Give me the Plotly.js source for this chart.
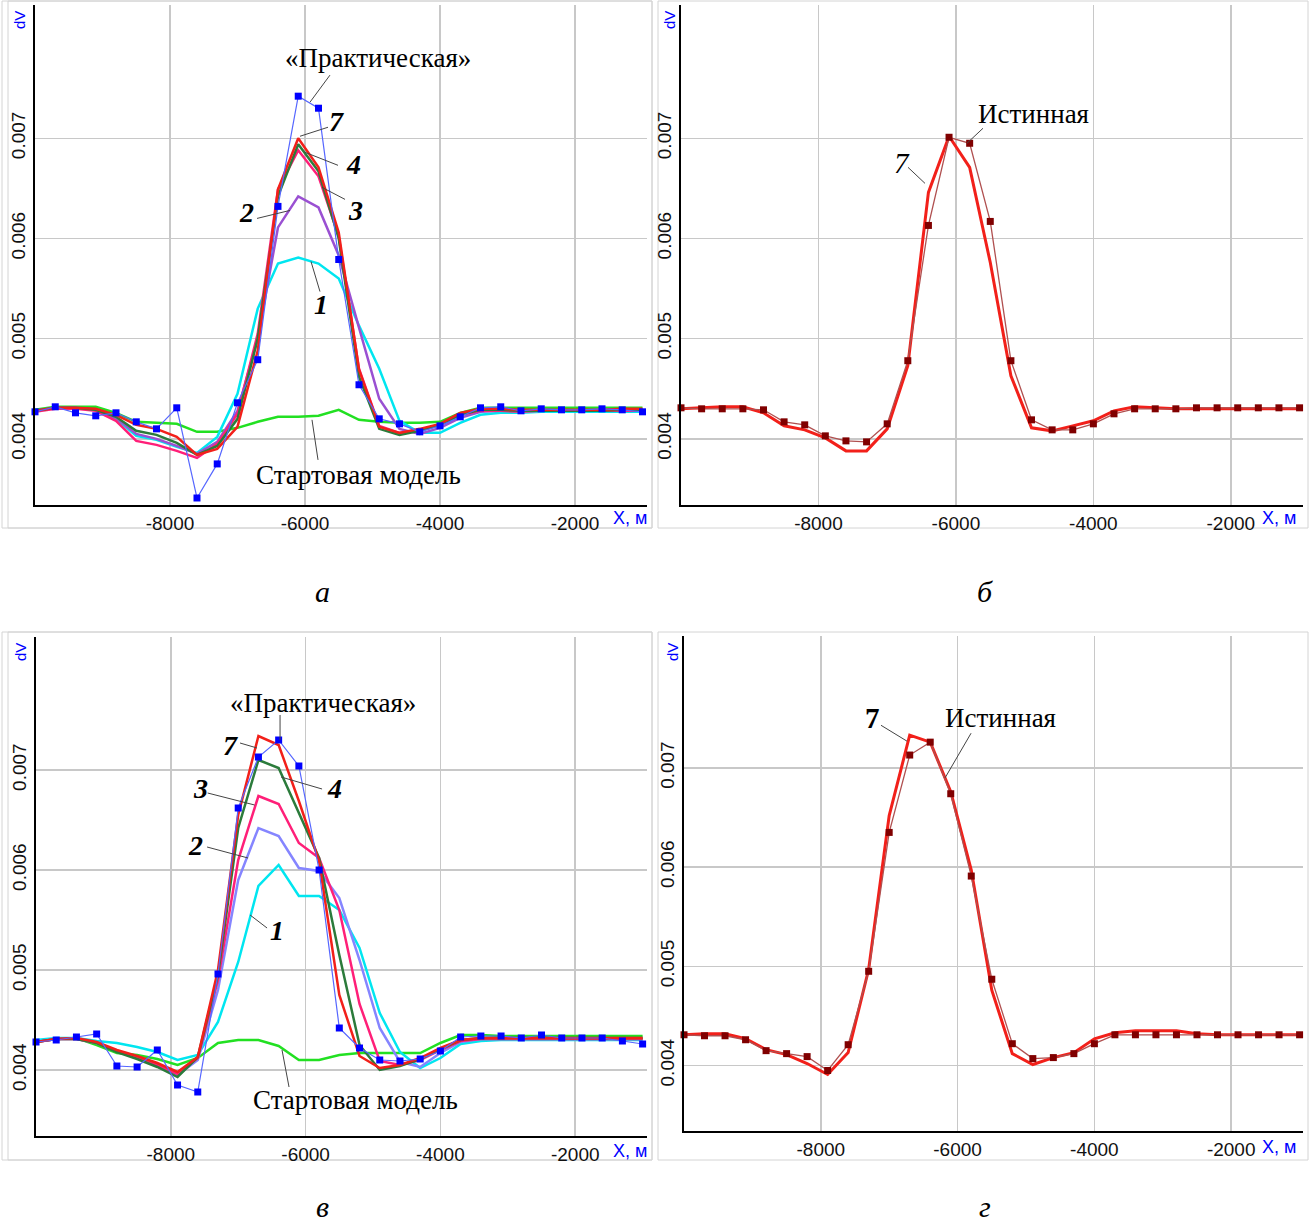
<!DOCTYPE html>
<html><head><meta charset="utf-8">
<script src="https://cdn.plot.ly/plotly-3.0.1.min.js"></script>
<style>body{margin:0;background:#fff}#chart{width:1311px;height:1225px}</style>
</head><body><div id="chart"></div>
<script>
// Profile positions (m)
const xPos = [-10000,-9700,-9400,-9100,-8800,-8500,-8200,-7900,-7600,-7300,-7000,-6700,-6400,-6100,-5800,-5500,-5200,-4900,-4600,-4300,-4000,-3700,-3400,-3100,-2800,-2500,-2200,-1900,-1600,-1300,-1000];

// Panel а
const aPractical = [0.00427,0.00432,0.00426,0.00423,0.00426,0.00417,0.00410,0.00431,0.00341,0.00375,0.00436,0.00479,0.00632,0.00742,0.00730,0.00579,0.00454,0.00420,0.00415,0.00407,0.00413,0.00422,0.00431,0.00432,0.00428,0.00430,0.00429,0.00429,0.00430,0.00429,0.00427];
const aStart = [0.00429,0.00432,0.00432,0.00432,0.00426,0.00417,0.00416,0.00415,0.00407,0.00407,0.00411,0.00417,0.00422,0.00422,0.00423,0.00429,0.00419,0.00417,0.00416,0.00416,0.00417,0.00426,0.00431,0.00431,0.00431,0.00431,0.00431,0.00431,0.00431,0.00431,0.00431];
const aIter1 = [0.00428,0.00431,0.00431,0.00429,0.00420,0.00403,0.00399,0.00392,0.00386,0.00402,0.00445,0.00530,0.00575,0.00581,0.00575,0.00560,0.00513,0.00470,0.00418,0.00406,0.00406,0.00416,0.00424,0.00426,0.00426,0.00427,0.00427,0.00427,0.00427,0.00427,0.00427];
const aIter2 = [0.00428,0.00431,0.00431,0.00429,0.00421,0.00405,0.00400,0.00393,0.00385,0.00397,0.00428,0.00500,0.00611,0.00642,0.00631,0.00583,0.00511,0.00440,0.00410,0.00405,0.00411,0.00421,0.00427,0.00428,0.00428,0.00428,0.00428,0.00428,0.00428,0.00428,0.00428];
const aIter3 = [0.00427,0.00430,0.00430,0.00428,0.00418,0.00398,0.00394,0.00388,0.00381,0.00395,0.00425,0.00505,0.00649,0.00688,0.00662,0.00602,0.00470,0.00413,0.00406,0.00409,0.00414,0.00424,0.00428,0.00428,0.00427,0.00428,0.00428,0.00428,0.00428,0.00428,0.00428];
const aIter4 = [0.00428,0.00431,0.00431,0.00429,0.00422,0.00408,0.00404,0.00396,0.00384,0.00393,0.00420,0.00500,0.00642,0.00694,0.00667,0.00600,0.00462,0.00410,0.00404,0.00408,0.00414,0.00424,0.00429,0.00429,0.00428,0.00428,0.00428,0.00428,0.00428,0.00429,0.00429];
const aIter7 = [0.00428,0.00431,0.00431,0.00430,0.00424,0.00414,0.00410,0.00402,0.00384,0.00390,0.00412,0.00488,0.00649,0.00700,0.00671,0.00606,0.00469,0.00412,0.00406,0.00410,0.00415,0.00426,0.00430,0.00430,0.00429,0.00429,0.00429,0.00429,0.00429,0.00430,0.00430];

// Panel б
const bTrue = [0.00431,0.00430,0.00430,0.00430,0.00429,0.00417,0.00414,0.00403,0.00398,0.00397,0.00415,0.00478,0.00613,0.00701,0.00695,0.00617,0.00478,0.00419,0.00409,0.00409,0.00415,0.00425,0.00430,0.00430,0.00430,0.00431,0.00431,0.00431,0.00431,0.00431,0.00431];
const bIter7 = [0.00430,0.00431,0.00432,0.00432,0.00426,0.00413,0.00409,0.00401,0.00388,0.00388,0.00410,0.00473,0.00646,0.00702,0.00671,0.00576,0.00463,0.00411,0.00408,0.00413,0.00418,0.00428,0.00432,0.00431,0.00430,0.00430,0.00430,0.00430,0.00430,0.00430,0.00430];

// Panel в
const cPractical = [0.00428,0.00430,0.00433,0.00436,0.00404,0.00403,0.00420,0.00385,0.00378,0.00496,0.00662,0.00713,0.00730,0.00704,0.00600,0.00442,0.00422,0.00410,0.00409,0.00411,0.00419,0.00433,0.00434,0.00434,0.00432,0.00435,0.00432,0.00432,0.00432,0.00429,0.00426];
const cStart = [0.00429,0.00431,0.00432,0.00425,0.00417,0.00415,0.00411,0.00405,0.00412,0.00427,0.00430,0.00430,0.00424,0.00410,0.00410,0.00415,0.00417,0.00417,0.00417,0.00417,0.00427,0.00435,0.00435,0.00434,0.00434,0.00434,0.00434,0.00434,0.00434,0.00434,0.00434];
const cIter1 = [0.00430,0.00432,0.00432,0.00429,0.00427,0.00423,0.00418,0.00410,0.00415,0.00448,0.00508,0.00584,0.00605,0.00574,0.00574,0.00560,0.00522,0.00457,0.00418,0.00402,0.00412,0.00426,0.00429,0.00430,0.00430,0.00430,0.00430,0.00430,0.00430,0.00430,0.00430];
const cIter2 = [0.00428,0.00431,0.00431,0.00427,0.00419,0.00412,0.00405,0.00395,0.00410,0.00480,0.00590,0.00642,0.00634,0.00602,0.00599,0.00572,0.00510,0.00442,0.00408,0.00403,0.00417,0.00428,0.00431,0.00431,0.00431,0.00431,0.00431,0.00431,0.00431,0.00431,0.00431];
const cIter3 = [0.00428,0.00431,0.00431,0.00427,0.00419,0.00412,0.00405,0.00396,0.00412,0.00490,0.00610,0.00674,0.00666,0.00627,0.00612,0.00560,0.00466,0.00409,0.00405,0.00410,0.00420,0.00429,0.00431,0.00431,0.00431,0.00431,0.00431,0.00431,0.00431,0.00431,0.00431];
const cIter4 = [0.00428,0.00431,0.00431,0.00427,0.00418,0.00411,0.00403,0.00393,0.00413,0.00495,0.00642,0.00710,0.00702,0.00657,0.00612,0.00515,0.00425,0.00400,0.00404,0.00411,0.00421,0.00430,0.00432,0.00432,0.00432,0.00432,0.00432,0.00432,0.00432,0.00432,0.00432];
const cIter7 = [0.00428,0.00431,0.00432,0.00428,0.00420,0.00414,0.00407,0.00398,0.00413,0.00500,0.00655,0.00734,0.00725,0.00669,0.00609,0.00475,0.00414,0.00402,0.00405,0.00412,0.00422,0.00430,0.00432,0.00432,0.00432,0.00432,0.00432,0.00432,0.00432,0.00432,0.00432];

// Panel г
const dTrue = [0.00431,0.00430,0.00430,0.00426,0.00415,0.00412,0.00409,0.00395,0.00421,0.00495,0.00635,0.00713,0.00726,0.00674,0.00591,0.00487,0.00422,0.00407,0.00408,0.00412,0.00422,0.00431,0.00431,0.00431,0.00431,0.00431,0.00431,0.00431,0.00431,0.00431,0.00431];
const dIter7 = [0.00431,0.00432,0.00432,0.00427,0.00416,0.00411,0.00402,0.00391,0.00413,0.00497,0.00652,0.00733,0.00726,0.00676,0.00597,0.00476,0.00412,0.00401,0.00408,0.00413,0.00427,0.00433,0.00435,0.00435,0.00435,0.00432,0.00431,0.00431,0.00431,0.00431,0.00431];

const xTicks = [-8000,-6000,-4000,-2000];
const yTicks = [0.004,0.005,0.006,0.007];
const yTickText = ['0.004','0.005','0.006','0.007'];

const C = {cyan:'#00e6f0', purple:'#9a50d2', pink:'#ff1f78', dkgreen:'#2b7b3b', red:'#f2201a', start:'#22e022', blue:'#0000ff', blueLine:'#5566ff', peri:'#8585ff', trueM:'#800000', trueL:'#b05050'};

function ln(xa, ya, y, color, w){
  return {x:xPos, y:y, xaxis:xa, yaxis:ya, type:'scatter', mode:'lines', line:{color:color, width:w}, showlegend:false, hoverinfo:'skip', cliponaxis:false};
}
function mk(xa, ya, y, mcolor, lcolor, lw){
  return {x:xPos, y:y, xaxis:xa, yaxis:ya, type:'scatter', mode:'lines+markers', line:{color:lcolor, width:lw}, marker:{symbol:'square', size:7, color:mcolor}, showlegend:false, hoverinfo:'skip', cliponaxis:false};
}

const traces = [
  ln('x','y',aStart,C.start,2.5),
  ln('x','y',aIter1,C.cyan,2.5),
  ln('x','y',aIter2,C.purple,2.5),
  ln('x','y',aIter3,C.pink,2.5),
  ln('x','y',aIter4,C.dkgreen,2.5),
  ln('x','y',aIter7,C.red,2.5),
  mk('x','y',aPractical,C.blue,C.blueLine,1.2),
  ln('x2','y2',bIter7,C.red,3),
  mk('x2','y2',bTrue,C.trueM,C.trueL,1.3),
  ln('x3','y3',cStart,C.start,2.5),
  ln('x3','y3',cIter1,C.cyan,2.5),
  ln('x3','y3',cIter2,C.peri,2.5),
  ln('x3','y3',cIter3,C.pink,2.5),
  ln('x3','y3',cIter4,C.dkgreen,2.5),
  ln('x3','y3',cIter7,C.red,2.5),
  mk('x3','y3',cPractical,C.blue,C.blueLine,1.2),
  ln('x4','y4',dIter7,C.red,3),
  mk('x4','y4',dTrue,C.trueM,C.trueL,1.3)
];

const W=1311, H=1225;
const px = v => v/W, py = v => 1 - v/H;
const sans = 'Liberation Sans, Arial, sans-serif';

function xax(l, r, range){
  return {domain:[px(l),px(r)], range:range, tickvals:xTicks, ticktext:xTicks.map(String), showgrid:true, gridcolor:'#c8c8c8', gridwidth:1.5, zeroline:false, showline:true, linecolor:'#000', linewidth:2, ticks:'', tickfont:{family:sans, size:19, color:'#111'}, automargin:false, fixedrange:true};
}
function yax(t, b, anchor){
  return {domain:[py(b),py(t)], range:[0.00334,0.00833], tickvals:yTicks, ticktext:yTickText, tickangle:-90, showgrid:true, gridcolor:'#c8c8c8', gridwidth:1.5, zeroline:false, showline:true, linecolor:'#000', linewidth:2, ticks:'', tickfont:{family:sans, size:19, color:'#111'}, automargin:false, anchor:anchor, fixedrange:true};
}

const serif = 'Liberation Serif, Times New Roman, serif';
function txt(x, y, s, size, opts){
  return Object.assign({xref:'paper', yref:'paper', x:px(x), y:py(y), text:s, showarrow:false, xanchor:'center', yanchor:'middle', font:{family:serif, size:size, color:'#000'}}, opts||{});
}
function num(x, y, s){
  return txt(x, y, '<b><i>'+s+'</i></b>', 28);
}
function blue(x, y, s, angle){
  return txt(x, y, s, 16, {font:{family:sans, size:angle? 15:18, color:'#0000ff'}, textangle: angle||0});
}

const annotations = [
  // panel а
  txt(378,58,'«Практическая»',27), num(336,122,'7'), num(353,164,'4'), num(355,210,'3'), num(246,213,'2'), num(321,304,'1'), txt(358,475,'Стартовая модель',27),
  // panel б
  txt(1033,114,'Истинная',27), txt(902,163,'<i>7</i>',29),
  // panel в
  txt(323,703,'«Практическая»',27), num(231,745,'7'), num(334,789,'4'), num(200,789,'3'), num(195,845,'2'), num(277,930,'1'), txt(355,1100,'Стартовая модель',27),
  // panel г
  txt(872,718,'<b>7</b>',29), txt(1000,718,'Истинная',27),
  // axis captions
  blue(20,20,'dV',-90), blue(670,20,'dV',-90), blue(20,652,'dV',-90), blue(672,652,'dV',-90),
  blue(630,518,'X, м'), blue(1279,518,'X, м'), blue(630,1151,'X, м'), blue(1279,1147,'X, м'),
  // panel letters
  txt(322,591,'<i>а</i>',30), txt(985,591,'<i>б</i>',30), txt(322,1206,'<i>в</i>',30), txt(985,1206,'<i>г</i>',30)
];

function lead(xr, yr, x0, y0, x1, y1){
  return {type:'line', xref:xr, yref:yr, x0:x0, y0:y0, x1:x1, y1:y1, line:{color:'#444', width:1}};
}
function frame(x0,y0,x1,y1){
  return {type:'rect', xref:'paper', yref:'paper', x0:px(x0), x1:px(x1), y0:py(y1), y1:py(y0), line:{color:'#d4d4d4', width:1}, layer:'below'};
}
const shapes = [
  lead('x','y',-5630,0.00763,-5926,0.00736),
  lead('x','y',-6074,0.00702,-5659,0.00711),
  lead('x','y',-6000,0.00686,-5511,0.00673),
  lead('x','y',-5748,0.00651,-5407,0.00639),
  lead('x','y',-6711,0.00620,-6222,0.00628),
  lead('x','y',-5911,0.00577,-5778,0.00547),
  lead('x','y',-5896,0.00419,-5807,0.00379),
  lead('x2','y2',-5606,0.00710,-5839,0.00695),
  lead('x2','y2',-6697,0.00671,-6450,0.00655),
  lead('x3','y3',-6379,0.00755,-6379,0.00730),
  lead('x3','y3',-6973,0.00727,-6721,0.00722),
  lead('x3','y3',-6364,0.00693,-5756,0.00681),
  lead('x3','y3',-7453,0.00677,-6756,0.00665),
  lead('x3','y3',-7462,0.00623,-6854,0.00612),
  lead('x3','y3',-6824,0.00555,-6572,0.00542),
  lead('x3','y3',-6350,0.00420,-6246,0.00383),
  lead('x4','y4',-7120,0.00743,-6740,0.00727),
  lead('x4','y4',-5803,0.00735,-6183,0.00690),
  frame(2,1,652,528), frame(8,1,652,528),
  frame(658,1,1308,528),
  frame(2,632,652,1160), frame(8,632,652,1160),
  frame(658,632,1308,1160)
];

const layout = {
  width:W, height:H, margin:{l:0,r:0,t:0,b:0}, paper_bgcolor:'#fff', plot_bgcolor:'#fff', showlegend:false,
  xaxis: Object.assign(xax(35,647,[-10000,-933]),{anchor:'y'}), yaxis: yax(5,505,'x'),
  xaxis2: Object.assign(xax(681,1303,[-10000,-950]),{anchor:'y2'}), yaxis2: yax(5,505,'x2'),
  xaxis3: Object.assign(xax(36,647,[-10000,-935]),{anchor:'y3'}), yaxis3: yax(637,1136,'x3'),
  xaxis4: Object.assign(xax(684,1303,[-10000,-950]),{anchor:'y4'}), yaxis4: yax(636,1131,'x4'),
  annotations: annotations, shapes: shapes
};
Plotly.newPlot('chart', traces, layout, {staticPlot:true, displayModeBar:false});
</script></body></html>
